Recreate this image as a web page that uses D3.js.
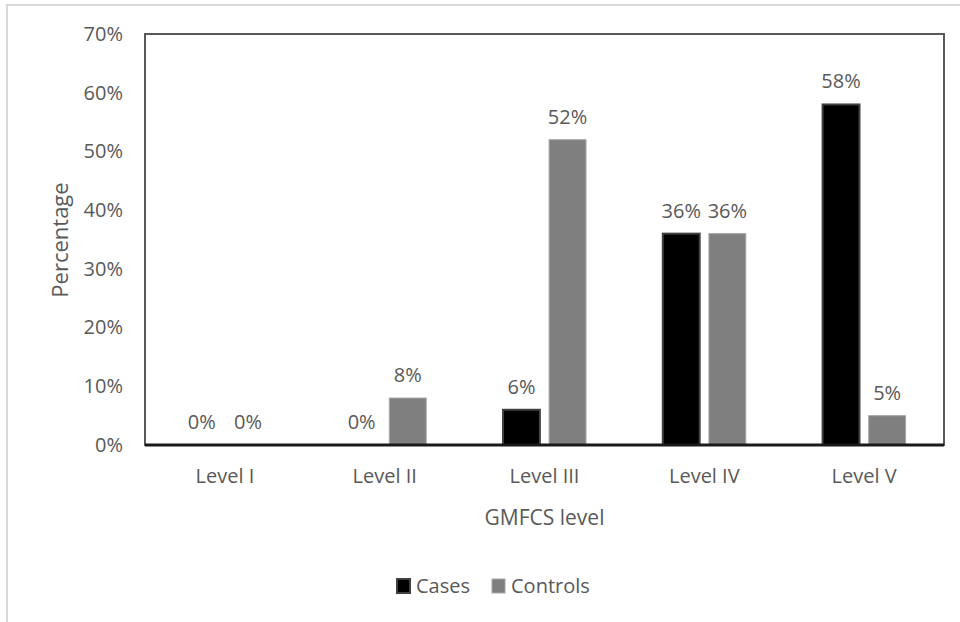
<!DOCTYPE html>
<html>
<head>
<meta charset="utf-8">
<script src="https://cdn.jsdelivr.net/npm/d3@7"></script>
<style>
  body { margin: 0; background: #fff; }
  text { font-family: "Open Sans", sans-serif; fill: #595959; }
</style>
</head>
<body>
<div id="chart"></div>
<script>
// data
const levels = ["Level I", "Level II", "Level III", "Level IV", "Level V"];
const seriesNames = ["Cases", "Controls"];
const cases = [0, 0, 6, 36, 58];
const controls = [0, 8, 52, 36, 5];
const yTicks = [0, 10, 20, 30, 40, 50, 60, 70];

const data = levels.map((l, i) => ({ level: l, Cases: cases[i], Controls: controls[i] }));

const W = 960, H = 622;
const margin = { top: 34, right: 16, bottom: 177, left: 145 };
const width = W - margin.left - margin.right,
      height = H - margin.top - margin.bottom;

const svg = d3.select("#chart").append("svg")
    .attr("width", W).attr("height", H);

// outer chart border (only top & left visible)
svg.append("path")
    .attr("d", "M7,622 V5 H960")
    .attr("fill", "none")
    .attr("stroke", "#d9d9d9")
    .attr("stroke-width", 2);

const g = svg.append("g").attr("transform", `translate(${margin.left},${margin.top})`);

const x0 = d3.scaleBand().domain(levels).range([0, width]);
const bw = x0.bandwidth();
const x1 = d3.scaleBand().domain(seriesNames)
    .range([bw / 2 - 41.5, bw / 2 + 41.5]).paddingInner(0.2);
const y = d3.scaleLinear().domain([0, 70]).range([height, 0]);

const color = d3.scaleOrdinal().domain(seriesNames).range(["#000000", "#7f7f7f"]);
const stroke = d3.scaleOrdinal().domain(seriesNames).range(["#404040", "#a6a6a6"]);
const strokeW = d3.scaleOrdinal().domain(seriesNames).range([2, 1]);

// plot frame
g.append("rect")
    .attr("x", 0).attr("y", 0)
    .attr("width", width).attr("height", height)
    .attr("fill", "none")
    .attr("stroke", "#595959")
    .attr("stroke-width", 2);

// y axis
const yAxis = d3.axisLeft(y).tickValues(yTicks).tickFormat(d => d + "%").tickSize(0).tickPadding(22);
g.append("g").call(yAxis)
    .call(s => s.select(".domain").remove())
    .selectAll("text")
    .attr("font-size", 20)
    .attr("fill", "#595959")
    .style("font-family", "'Open Sans', sans-serif");

// bars
const groups = g.selectAll("g.grp")
    .data(data).enter().append("g")
    .attr("class", "grp")
    .attr("transform", d => `translate(${x0(d.level)},0)`);

const cells = groups.selectAll("g.cell")
    .data(d => seriesNames.map(k => ({ key: k, value: d[k] })))
    .enter().append("g").attr("class", "cell");

cells.filter(d => d.value > 0).append("rect")
    .attr("x", d => x1(d.key))
    .attr("y", d => y(d.value))
    .attr("width", x1.bandwidth())
    .attr("height", d => y(0) - y(d.value))
    .attr("fill", d => color(d.key))
    .attr("stroke", d => stroke(d.key))
    .attr("stroke-width", d => strokeW(d.key));

cells.append("text")
    .attr("x", d => x1(d.key) + x1.bandwidth() / 2)
    .attr("y", d => y(d.value) - 16)
    .attr("text-anchor", "middle")
    .attr("font-size", 20)
    .text(d => d.value + "%");

// x axis line
g.append("line")
    .attr("x1", 0).attr("x2", width)
    .attr("y1", height).attr("y2", height)
    .attr("stroke", "#1a1a1a")
    .attr("stroke-width", 3);

const xAxis = d3.axisBottom(x0).tickSize(0).tickPadding(24);
g.append("g").attr("transform", `translate(0,${height})`).call(xAxis)
    .call(s => s.select(".domain").remove())
    .selectAll("text")
    .attr("font-size", 20)
    .attr("fill", "#595959")
    .style("font-family", "'Open Sans', sans-serif");

// axis titles
svg.append("text")
    .attr("x", margin.left + width / 2)
    .attr("y", 525)
    .attr("text-anchor", "middle")
    .attr("font-size", 21)
    .text("GMFCS level");

svg.append("text")
    .attr("transform", "translate(68,240) rotate(-90)")
    .attr("text-anchor", "middle")
    .attr("font-size", 22)
    .text("Percentage");

// legend
const legendX = [397, 492];
const legend = svg.append("g");
seriesNames.forEach((k, i) => {
    legend.append("rect")
        .attr("x", legendX[i]).attr("y", 579)
        .attr("width", 13).attr("height", 14)
        .attr("fill", color(k))
        .attr("stroke", stroke(k))
        .attr("stroke-width", strokeW(k));
    legend.append("text")
        .attr("x", legendX[i] + 19).attr("y", 593)
        .attr("font-size", 20)
        .text(k);
});
</script>
</body>
</html>
